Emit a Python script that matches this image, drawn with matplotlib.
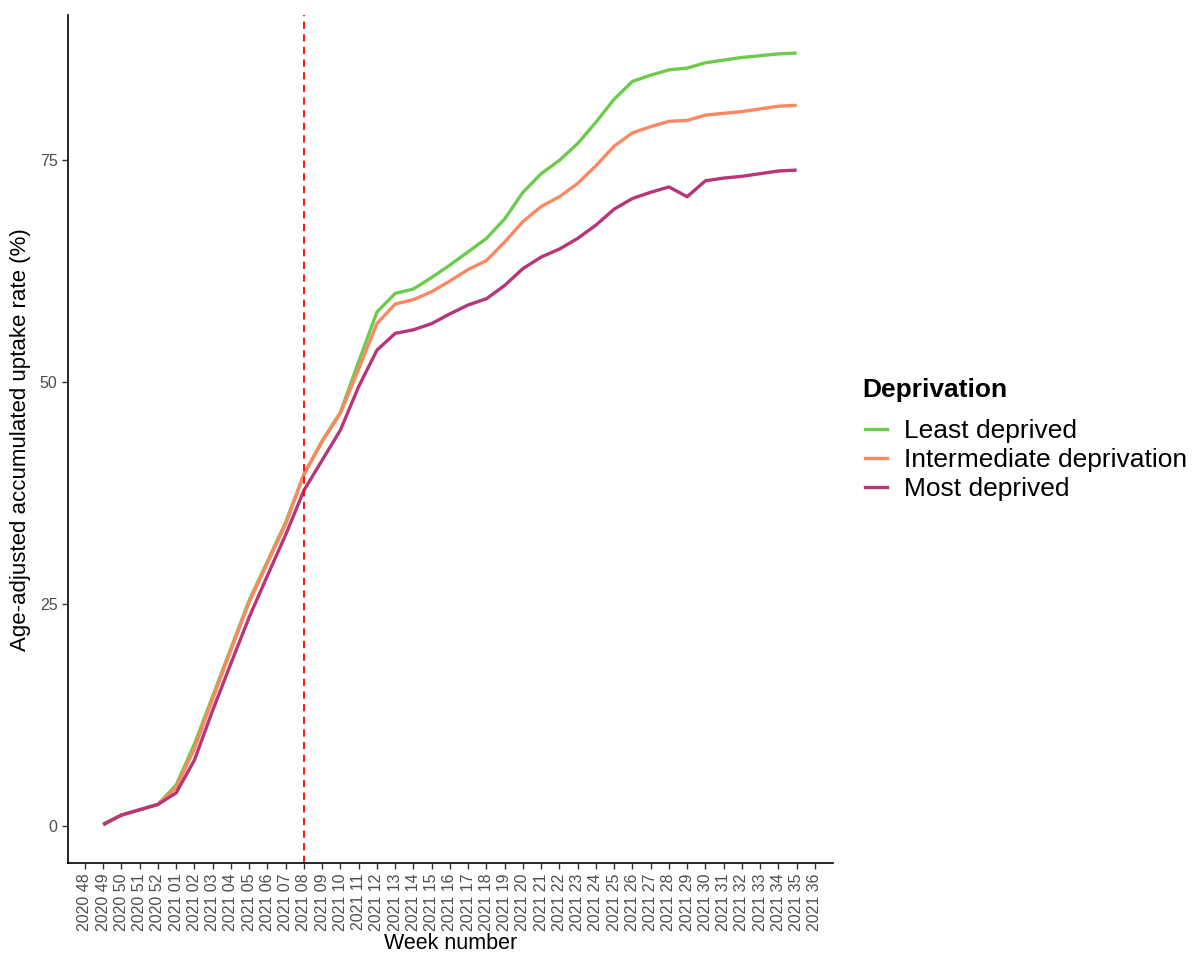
import matplotlib
matplotlib.use("Agg")
import matplotlib.pyplot as plt
from matplotlib.lines import Line2D

plt.rcParams['font.family'] = ['Liberation Sans', 'DejaVu Sans']

weeks = ["2020 48", "2020 49", "2020 50", "2020 51", "2020 52"] + [f"2021 {i:02d}" for i in range(1, 37)]
data_weeks = weeks[1:40]  # 2020 49 .. 2021 35

least = [0.2, 1.2, 1.8, 2.4, 4.6, 9.2, 14.6, 20.0, 25.4, 29.8, 34.2, 39.6, 43.4, 46.6, 52.3,
         57.9, 60.0, 60.5, 61.8, 63.2, 64.7, 66.2, 68.4, 71.4, 73.5, 75.0, 76.9, 79.3, 81.9,
         83.9, 84.6, 85.2, 85.4, 86.0, 86.3, 86.6, 86.8, 87.0, 87.1]
intermediate = [0.2, 1.2, 1.8, 2.4, 4.3, 8.7, 14.3, 19.8, 25.2, 29.6, 34.0, 39.6, 43.3, 46.5, 51.5,
                56.6, 58.8, 59.3, 60.2, 61.4, 62.7, 63.7, 65.8, 68.1, 69.8, 70.9, 72.4, 74.4, 76.6,
                78.1, 78.8, 79.4, 79.5, 80.1, 80.3, 80.5, 80.8, 81.1, 81.2]
most = [0.1, 1.2, 1.8, 2.4, 3.7, 7.4, 13.0, 18.3, 23.5, 28.2, 32.8, 37.8, 41.2, 44.6, 49.5,
        53.6, 55.5, 55.9, 56.6, 57.7, 58.7, 59.4, 60.9, 62.8, 64.1, 65.0, 66.2, 67.7, 69.5,
        70.7, 71.4, 72.0, 70.9, 72.7, 73.0, 73.2, 73.5, 73.8, 73.9]

series_names = ["Least deprived", "Intermediate deprivation", "Most deprived"]
series_values = [least, intermediate, most]
colors = ["#6CCB4C", "#FB8861", "#B63679"]
cutoff_week = "2021 08"

fig = plt.figure(figsize=(11.92, 9.56), dpi=100)
ax = fig.add_axes([0.057, 0.0973, 0.642, 0.8867])

xpos = {w: i for i, w in enumerate(weeks)}
xs = [xpos[w] for w in data_weeks]
for name, vals, c in zip(series_names, series_values, colors):
    ax.plot(xs, vals, color=c, lw=2.4, label=name, solid_capstyle='butt')

ax.axvline(xpos[cutoff_week], color="#FF0000", lw=1.3, ls=(0, (4, 3)))

ax.set_xticks(range(len(weeks)))
ax.set_xticklabels(weeks, rotation=90, fontsize=11.5, color="#4D4D4D")
ax.set_yticks([0, 25, 50, 75])
ax.tick_params(axis='y', labelsize=11.5, labelcolor="#4D4D4D", color="#333333", length=4, width=1)
ax.tick_params(axis='x', color="#333333", length=4, width=1)
ax.set_xlim(-0.93, 41.0)
ax.set_ylim(-4.2, 91.35)

for s in ["top", "right"]:
    ax.spines[s].set_visible(False)
for s in ["left", "bottom"]:
    ax.spines[s].set_linewidth(1.2)
    ax.spines[s].set_color("black")

ax.set_xlabel("Week number", fontsize=15.5, labelpad=1)
ax.set_ylabel("Age-adjusted accumulated uptake rate (%)", fontsize=16, labelpad=6)

fig.text(862 / 1192, 1 - 390 / 956, "Deprivation", fontsize=19, fontweight='bold',
         ha='left', va='center')
handles = [Line2D([0], [0], color=c, lw=2.4) for c in colors]
leg = fig.legend(handles, series_names, loc="upper left", bbox_to_anchor=(865 / 1192, 1 - 419 / 956),
                 frameon=False, fontsize=19, handlelength=0.83, handletextpad=0.64,
                 labelspacing=0.19, borderaxespad=0, borderpad=0)

fig.savefig("out.png", dpi=100)
